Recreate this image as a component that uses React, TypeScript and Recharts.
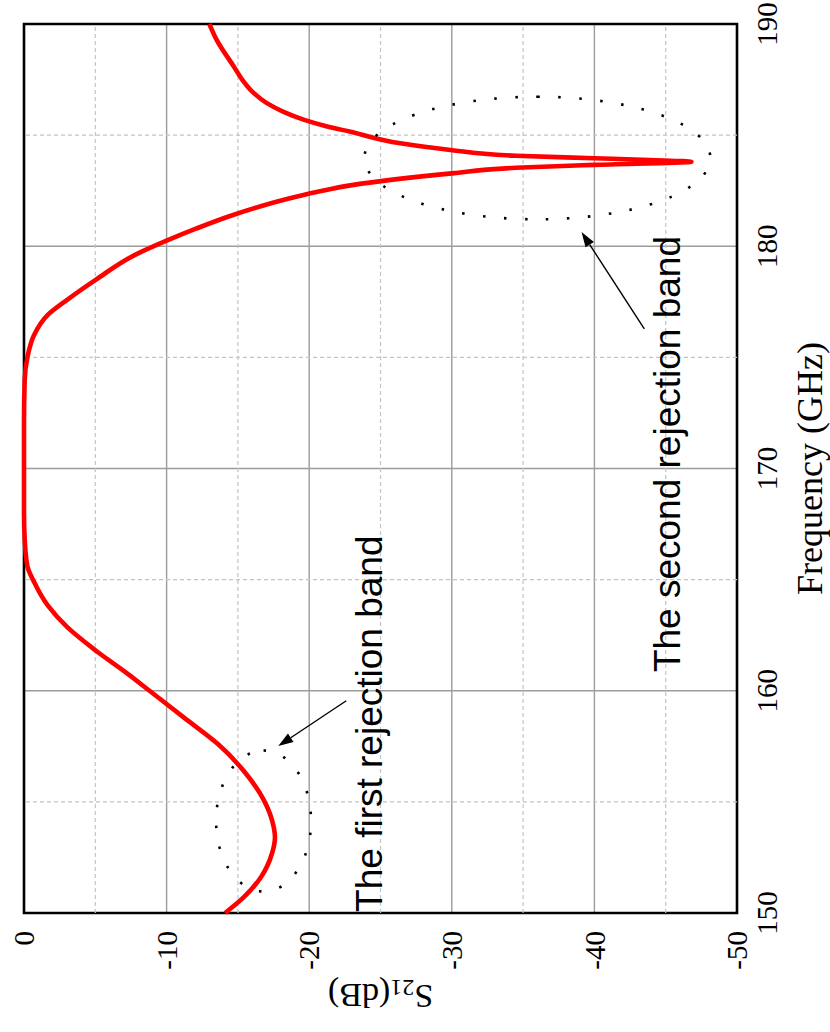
import React from 'react';
import {
  LineChart,
  Line,
  XAxis,
  YAxis,
  CartesianGrid,
  ReferenceLine,
  ReferenceArea,
  ReferenceDot,
} from 'recharts';

// S21 response of the filter, frequency in GHz and magnitude in dB
const freqGHz = [
  150, 150.7, 151.6, 152.7, 153.4, 153.9, 155.1, 156.4, 157.6, 158.8,
  160, 160.75, 161.8, 162.85, 163.85, 164.9, 165.6, 166.8, 168, 170,
  172, 174, 175, 176, 176.9, 177.6, 178.5, 179.6, 180.25, 180.8,
  181.35, 181.8, 182.1, 182.45, 182.75, 183.01, 183.28, 183.53, 183.66, 183.8,
  183.88, 183.96, 184.07, 184.33, 184.63, 185.15, 185.4, 185.7, 186.05, 186.45,
  186.9, 187.5, 188.1, 189.3, 190,
];
const s21dB = [
  -14.1, -15.4, -16.6, -17.4, -17.6, -17.5, -16.8, -15.4, -13.6, -11.2,
  -8.8, -7.3, -5.05, -3.05, -1.65, -0.7, -0.24, -0.05, 0, 0,
  0, -0.05, -0.24, -0.7, -1.65, -3.05, -5.05, -7.75, -10.0, -12.1,
  -14.4, -16.6, -18.3, -20.6, -23.0, -26.0, -30.0, -34.5, -40.0, -46.8,
  -43.9, -40.0, -34.5, -29.9, -26.4, -22.9, -21.2, -19.6, -18.2, -17.0,
  -16.1, -15.3, -14.7, -13.5, -13.0,
];

const freqTicks = [150, 160, 170, 180, 190];
const freqMinor = [155, 165, 175, 185];
const s21Ticks = [0, -10, -20, -30, -40, -50];
const s21Minor = [-5, -15, -25, -35, -45];

const data = freqGHz.map((f, i) => ({ f, s21: s21dB[i] }));

const serif = '"Liberation Serif", "Times New Roman", serif';
const sans = '"Liberation Sans", Arial, sans-serif';

// annotation arrow: thin shaft with a filled head at (x2, y2)
function Arrow(props: any) {
  const { x1, y1, x2, y2 } = props;
  const ang = Math.atan2(y2 - y1, x2 - x1);
  const len = 15;
  const half = 5;
  const bx = x2 - len * Math.cos(ang);
  const by = y2 - len * Math.sin(ang);
  const px = -Math.sin(ang) * half;
  const py = Math.cos(ang) * half;
  return (
    <g>
      <line x1={x1} y1={y1} x2={bx} y2={by} stroke="#000" strokeWidth={1.4} />
      <polygon points={`${x2},${y2} ${bx + px},${by + py} ${bx - px},${by - py}`} fill="#000" />
    </g>
  );
}

const dottedEllipse = (rx: number, ry: number) => (p: any) => (
  <ellipse
    cx={p.cx}
    cy={p.cy}
    rx={rx}
    ry={ry}
    fill="none"
    stroke="#000"
    strokeWidth={2.6}
    strokeDasharray="2.5 18.5"
  />
);

const note = (text: string) => (p: any) => (
  <text x={p.cx} y={p.cy} fontFamily={sans} fontSize={37} fill="#000">
    {text}
  </text>
);

function S21Label(props: any) {
  const { x, y, height } = props.viewBox;
  const cx = x + 36;
  const cy = y + height / 2;
  return (
    <text
      x={cx}
      y={cy}
      transform={`rotate(-90 ${cx} ${cy})`}
      textAnchor="middle"
      dominantBaseline="central"
      fontFamily={serif}
      fontSize={34}
      fill="#000"
    >
      S<tspan dy={8} fontSize={24}>21</tspan>
      <tspan dy={-8}>(dB)</tspan>
    </text>
  );
}

function FreqLabel(props: any) {
  const { x, y, width } = props.viewBox;
  return (
    <text x={x + width / 2} y={y + 85} textAnchor="middle" fontFamily={serif} fontSize={36} fill="#000">
      Frequency (GHz)
    </text>
  );
}

export default function App() {
  return (
    <div
      style={{
        position: 'absolute',
        left: 0,
        top: 0,
        width: 830,
        height: 1032,
        overflow: 'hidden',
        background: '#fff',
      }}
    >
      {/* chart is laid out landscape and turned a quarter turn counter-clockwise */}
      <div
        style={{
          position: 'absolute',
          left: 0,
          top: 0,
          width: 1032,
          height: 830,
          transformOrigin: '0 0',
          transform: 'translate(0px, 1032px) rotate(-90deg)',
        }}
      >
        <LineChart width={1032} height={830} data={data} margin={{ top: 24, right: 24, left: 0, bottom: 0 }}>
          {s21Minor.map((v) => (
            <ReferenceLine key={`h${v}`} y={v} stroke="#c4c4c4" strokeWidth={1.2} strokeDasharray="4 3" />
          ))}
          {freqMinor.map((v) => (
            <ReferenceLine key={`v${v}`} x={v} stroke="#c4c4c4" strokeWidth={1.2} strokeDasharray="4 3" />
          ))}
          <CartesianGrid stroke="#9c9c9c" strokeWidth={1.4} />
          <XAxis
            dataKey="f"
            type="number"
            domain={[150, 190]}
            ticks={freqTicks}
            interval={0}
            height={93}
            axisLine={false}
            tickLine={false}
            tickMargin={13}
            tick={{ fontFamily: serif, fontSize: 29, fill: '#000' }}
            label={{ content: FreqLabel }}
          />
          <YAxis
            type="number"
            domain={[-50, 0]}
            ticks={s21Ticks}
            interval={0}
            width={119}
            axisLine={false}
            tickLine={false}
            tickMargin={12}
            tick={{ fontFamily: serif, fontSize: 29, fill: '#000' }}
            label={{ content: S21Label }}
          />
          <ReferenceDot x={154.14} y={-16.8} ifOverflow="visible" shape={dottedEllipse(70.5, 47.5)} />
          <ReferenceDot x={183.97} y={-36.0} ifOverflow="visible" shape={dottedEllipse(61.3, 173)} />
          <Line
            type="monotone"
            dataKey="s21"
            stroke="#ff0000"
            strokeWidth={4.6}
            strokeLinejoin="round"
            dot={false}
            activeDot={false}
            isAnimationActive={false}
          />
          <ReferenceArea
            x1={150}
            x2={190}
            y1={-50}
            y2={0}
            fill="none"
            fillOpacity={0}
            stroke="#000"
            strokeWidth={2.6}
            ifOverflow="visible"
          />
          <ReferenceLine
            segment={[{ x: 159.55, y: -22.6 }, { x: 157.51, y: -17.83 }]}
            ifOverflow="visible"
            shape={Arrow}
          />
          <ReferenceLine
            segment={[{ x: 176.28, y: -43.5 }, { x: 180.64, y: -39.1 }]}
            ifOverflow="visible"
            shape={Arrow}
          />
          <ReferenceDot x={150.05} y={-25.1} ifOverflow="visible" shape={note('The first rejection band')} />
          <ReferenceDot x={160.84} y={-46.0} ifOverflow="visible" shape={note('The second rejection band')} />
        </LineChart>
      </div>
    </div>
  );
}
